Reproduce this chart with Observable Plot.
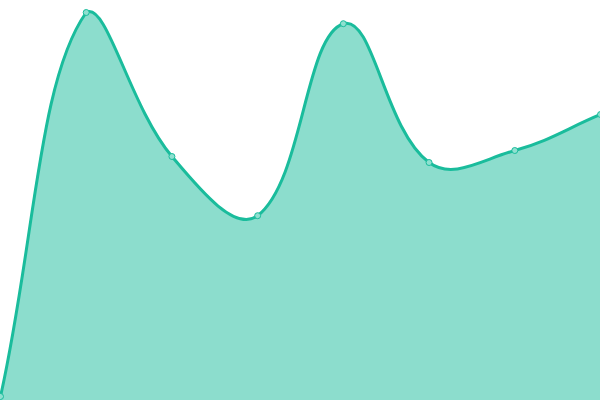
<!DOCTYPE html>
<html>
<head>
<meta charset="utf-8">
<script src="https://cdn.jsdelivr.net/npm/d3@7"></script>
<script src="https://cdn.jsdelivr.net/npm/@observablehq/plot@0.6"></script>
<style>
  html, body { margin: 0; padding: 0; background: #fff; overflow: hidden; }
</style>
</head>
<body>
<div id="chart"></div>
<script>
const categories = [0, 1, 2, 3, 4, 5, 6, 7];
const values = [1, 97, 61, 46.2, 94.2, 59.5, 62.5, 71.5];

const W = 600, H = 400;
const data = categories.map((c, i) => ({x: c, y: values[i]}));

// Tension-based bezier spline (tension 0.4), control points capped to the frame
function splineCurve(context) {
  const t = 0.4;
  const cap = (v, lo, hi) => Math.max(lo, Math.min(hi, v));
  return {
    _line: undefined,
    areaStart() { this._line = 0; },
    areaEnd() { this._line = NaN; },
    lineStart() { this._pts = []; },
    point(x, y) { this._pts.push([+x, +y]); },
    lineEnd() {
      const p = this._pts, n = p.length;
      if (n) {
        this._line ? context.lineTo(p[0][0], p[0][1]) : context.moveTo(p[0][0], p[0][1]);
        const cps = p.map((cur, i) => {
          const prev = p[i - 1] || cur, next = p[i + 1] || cur;
          const d01 = Math.hypot(cur[0] - prev[0], cur[1] - prev[1]);
          const d12 = Math.hypot(next[0] - cur[0], next[1] - cur[1]);
          let s01 = d01 / (d01 + d12), s12 = d12 / (d01 + d12);
          if (isNaN(s01)) s01 = 0;
          if (isNaN(s12)) s12 = 0;
          const fa = t * s01, fb = t * s12;
          const dx = next[0] - prev[0], dy = next[1] - prev[1];
          return {
            prev: [cap(cur[0] - fa * dx, 0, W), cap(cur[1] - fa * dy, 0, H)],
            next: [cap(cur[0] + fb * dx, 0, W), cap(cur[1] + fb * dy, 0, H)]
          };
        });
        for (let i = 1; i < n; i++) {
          const a = cps[i - 1].next, b = cps[i].prev;
          context.bezierCurveTo(a[0], a[1], b[0], b[1], p[i][0], p[i][1]);
        }
      }
      if (this._line || (this._line !== 0 && n === 1)) context.closePath();
      this._line = 1 - this._line;
    }
  };
}

const chart = Plot.plot({
  width: W,
  height: H,
  margin: 0,
  x: {domain: [0, 7], axis: null},
  y: {domain: [0, 100], axis: null},
  marks: [
    Plot.areaY(data, {x: "x", y: "y", curve: splineCurve, fill: "#1abc9c", fillOpacity: 0.5}),
    Plot.lineY(data, {x: "x", y: "y", curve: splineCurve, stroke: "#1abc9c", strokeWidth: 3}),
    Plot.dot(data, {x: "x", y: "y", r: 3, fill: "#8fe0d0", stroke: "#1abc9c", strokeWidth: 1})
  ]
});
document.getElementById("chart").appendChild(chart);
</script>
</body>
</html>
